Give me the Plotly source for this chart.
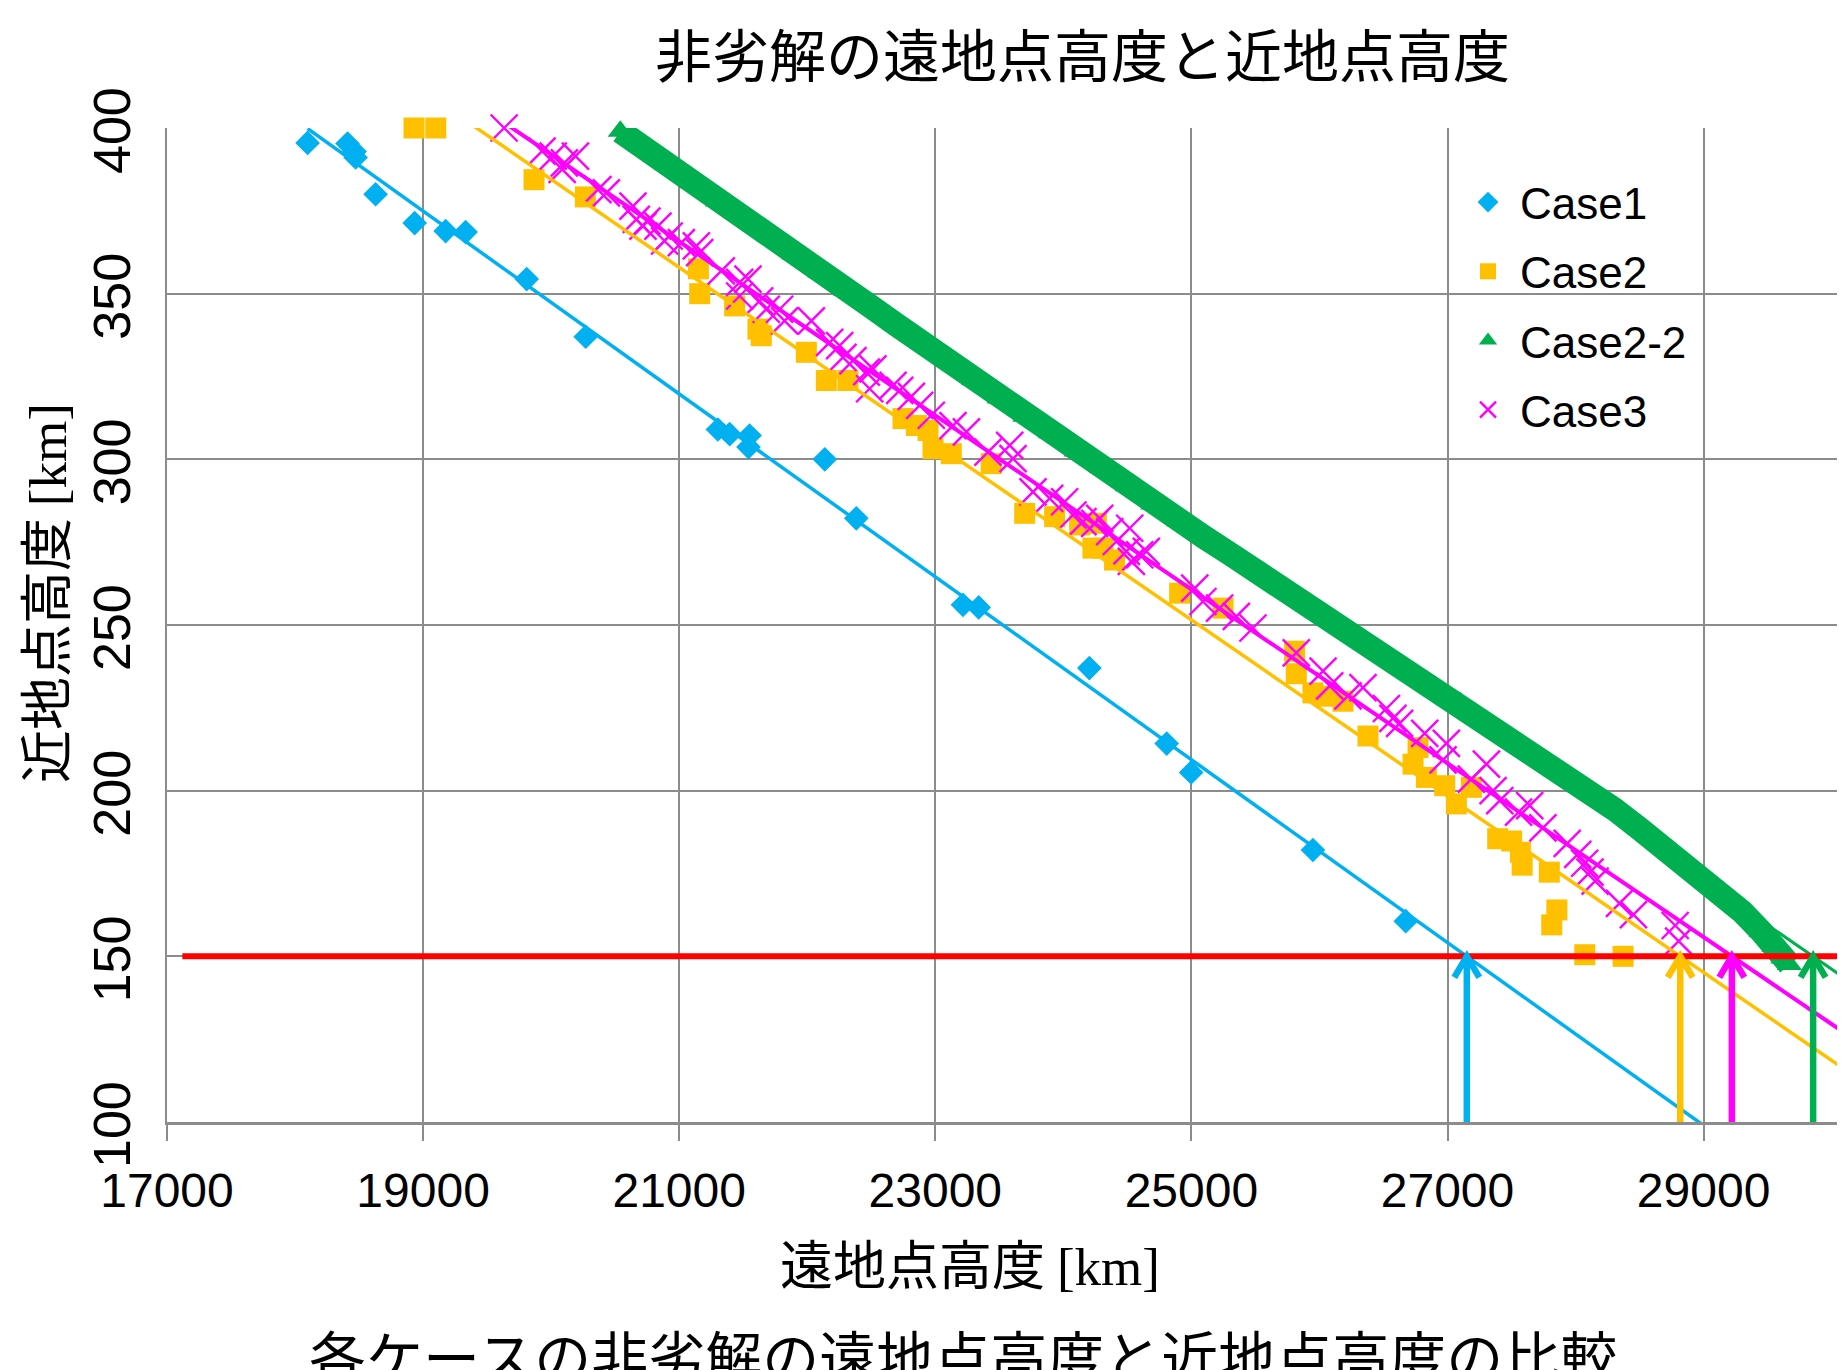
import numpy as np
import plotly.graph_objects as go

# ---------------- data ----------------
series_names = ["Case1", "Case2", "Case2-2", "Case3"]

case1_apogee = [18098, 18410, 18465, 18473, 18629, 18934, 19176, 19332, 19809, 20270,
                21302, 21394, 21550, 21541, 22137, 22383, 23216, 23339, 24203, 24807,
                24998, 25949, 26674]
case1_perigee = [395.5, 395.3, 392.9, 391.1, 380.0, 371.3, 368.9, 368.6, 354.4, 337.0,
                 309.0, 307.6, 307.2, 303.7, 300.0, 282.2, 256.1, 255.3, 237.0, 214.2,
                 205.5, 182.1, 160.6]

case2_apogee = [18929, 19099, 19866, 20267, 21150, 21160, 21433, 21615, 21641, 21993,
                22149, 22318, 22748, 22852, 22943, 22982, 23125, 23437, 23698, 23932,
                24127, 24258, 24231, 24309, 24400, 24908, 25247, 25806, 25819, 25949,
                26054, 26184, 26379, 26770, 26731, 26835, 26978, 27069, 27186, 27392,
                27501, 27569, 27583, 27795, 27854, 27814, 28072, 28371]
case2_perigee = [400.0, 400.0, 384.4, 379.2, 357.5, 350.0, 346.3, 339.3, 337.3, 332.3,
                 323.8, 323.8, 312.3, 310.2, 308.7, 303.2, 301.7, 298.7, 283.7, 282.7,
                 280.2, 280.7, 273.2, 273.2, 269.6, 259.6, 255.1, 242.1, 235.3, 229.5,
                 228.5, 227.0, 216.5, 213.0, 208.0, 204.0, 201.5, 196.0, 201.0, 185.5,
                 184.8, 181.4, 177.5, 175.4, 164.0, 159.5, 150.5, 150.0]

case22_apogee = [20540, 20700, 20900, 21100, 21300, 21500, 21700, 21900, 22100, 22300,
                 22500, 22700, 22900, 23100, 23300, 23500, 23700, 23900, 24100, 24300,
                 24500, 24700, 24900, 25100, 25300, 25500, 25700, 25900, 26100, 26300,
                 26500, 26700, 26900, 27100, 27300, 27500, 27700, 27900, 28100, 28300,
                 28500, 28700, 28900, 29100, 29300, 29450, 29550, 29620, 29670]
case22_perigee = [399.0, 394.5, 389.0, 383.5, 378.0, 373.0, 367.5, 362.0, 356.5, 351.0,
                  346.0, 340.5, 335.0, 329.5, 324.0, 318.5, 313.0, 308.0, 302.5, 297.5,
                  292.0, 286.5, 281.5, 276.5, 271.5, 266.5, 261.5, 256.5, 251.5, 246.5,
                  241.5, 236.5, 231.5, 226.5, 221.0, 216.0, 210.5, 205.5, 200.0, 194.5,
                  188.5, 182.5, 176.5, 170.0, 163.5, 157.5, 153.0, 149.5, 147.5]

case3_apogee = [19633, 19929, 20016, 20086, 20103, 20190, 20365, 20431, 20639, 20665,
                20717, 20748, 20834, 20886, 20922, 21017, 21134, 21160, 21329, 21472,
                21537, 21472, 21628, 21680, 21784, 21823, 22032, 22175, 22253, 22279,
                22357, 22461, 22513, 22487, 22670, 22722, 22813, 22878, 22969, 23138,
                23243, 23411, 23581, 23607, 23763, 23893, 24010, 24075, 24153, 24245,
                24362, 24414, 24284, 24518, 24492, 24596, 24648, 24531, 25026, 25090,
                25220, 25351, 25481, 25819, 26028, 26080, 26223, 26340, 26523, 26574,
                26626, 26822, 26991, 26965, 27186, 27304, 27356, 27408, 27555, 27642,
                27745, 27935, 28017, 28071, 28113, 28153, 28343, 28452, 28778, 28805]
case3_perigee = [400.0, 393.0, 391.5, 387.5, 389.5, 391.5, 381.4, 380.4, 376.4, 372.4,
                 370.4, 371.9, 370.4, 365.9, 367.4, 365.4, 364.4, 362.4, 356.9, 353.4,
                 354.4, 349.3, 347.8, 345.3, 345.3, 341.8, 341.8, 335.3, 334.3, 330.8,
                 329.8, 326.3, 327.3, 321.3, 322.3, 320.8, 319.0, 316.3, 313.3, 310.2,
                 308.3, 302.2, 304.2, 300.2, 290.2, 288.2, 287.2, 283.2, 281.2, 280.7,
                 278.2, 275.2, 282.2, 279.2, 272.2, 271.2, 272.2, 269.2, 261.1, 257.1,
                 255.1, 252.6, 249.1, 241.6, 236.1, 231.6, 228.6, 231.1, 224.8, 221.8,
                 220.3, 217.3, 214.3, 209.3, 203.5, 208.0, 200.0, 197.0, 193.5, 195.5,
                 188.8, 184.1, 180.8, 178.1, 175.4, 172.7, 166.0, 162.6, 159.3, 154.6]

threshold_perigee = 150          # km, red reference line
threshold_start_apogee = 17120   # km, where the red line begins
trend_end_apogee = 31000         # trend lines forecast forward to here

x_ticks = [17000, 19000, 21000, 23000, 25000, 27000, 29000]
y_ticks = [100, 150, 200, 250, 300, 350, 400]

title_text = "非劣解の遠地点高度と近地点高度"
x_title = "遠地点高度 <span style=\"font-family:Liberation Serif\">[km]</span>"
y_title = "近地点高度 <span style=\"font-family:Liberation Serif\">[km]</span>"
caption_text = "各ケースの非劣解の遠地点高度と近地点高度の比較"

# ---------------- styling ----------------
C1, C2, C22, C3 = "#00B0F0", "#FFC000", "#00B050", "#FF00FF"
RED = "#FF0000"
GRID = "#8c8c8c"
CJK = "Noto Sans CJK JP"
LAT = "Liberation Sans"

OFF = 8                                   # page body margin
FIG_W, FIG_H = 1845 - OFF, 1370 - OFF
L, T = 167 - OFF, 128 - OFF
PLOT_BOTTOM = 1122 - OFF
B = FIG_H - PLOT_BOTTOM
PW, PH = FIG_W - L, PLOT_BOTTOM - T
X_MIN = 17000
X_MAX = X_MIN + PW / 256.1 * 2000
Y_MIN, Y_MAX = 100, 400


def pxx(wx):   # window px -> paper x
    return (wx - OFF - L) / PW


def pxy(wy):   # window px -> paper y
    return (T + PH - (wy - OFF)) / PH


fig = go.Figure()

# scatter series
fig.add_trace(go.Scatter(x=case1_apogee, y=case1_perigee, mode="markers", name=series_names[0],
                         legendgroup="g1", cliponaxis=False,
                         marker=dict(symbol="diamond", size=19, color=C1)))
fig.add_trace(go.Scatter(x=case2_apogee, y=case2_perigee, mode="markers", name=series_names[1],
                         legendgroup="g2", cliponaxis=False,
                         marker=dict(symbol="square", size=21, color=C2)))
# dense Case2-2 front: band through the points + the triangle markers
fig.add_trace(go.Scatter(x=case22_apogee, y=case22_perigee, mode="lines", showlegend=False,
                         legendgroup="g3", line=dict(color=C22, width=24), hoverinfo="skip"))
fig.add_trace(go.Scatter(x=case22_apogee, y=case22_perigee, mode="markers", name=series_names[2],
                         legendgroup="g3", cliponaxis=False,
                         marker=dict(symbol="triangle-up", size=22, color=C22)))
fig.add_trace(go.Scatter(x=case3_apogee, y=case3_perigee, mode="markers", name=series_names[3],
                         legendgroup="g4", cliponaxis=False,
                         marker=dict(symbol="x-thin", size=27, color=C3,
                                     line=dict(color=C3, width=2.4))))

# linear trend lines (least squares) and their crossing of the threshold
series = [(case1_apogee, case1_perigee, C1, 3.5),
          (case2_apogee, case2_perigee, C2, 3.5),
          (case22_apogee, case22_perigee, C22, 3.0),
          (case3_apogee, case3_perigee, C3, 4.0)]
crossings = []
for xs, ys, col, w in series:
    m, b = np.polyfit(np.array(xs, float), np.array(ys, float), 1)
    tx = np.array([min(xs), trend_end_apogee], float)
    fig.add_trace(go.Scatter(x=tx, y=m * tx + b, mode="lines", showlegend=False,
                             line=dict(color=col, width=w), hoverinfo="skip"))
    crossings.append(((threshold_perigee - b) / m, col))

# red threshold line
fig.add_trace(go.Scatter(x=[threshold_start_apogee, trend_end_apogee],
                         y=[threshold_perigee, threshold_perigee], mode="lines",
                         showlegend=False, line=dict(color=RED, width=6), hoverinfo="skip"))

# arrows from the axis up to each crossing
head_dx = 12.5 * 2000 / 256.1           # px -> km
head_dy = 21.0 * (Y_MAX - Y_MIN) / PH   # px -> km
for xc, col in crossings:
    fig.add_trace(go.Scatter(
        x=[xc, xc, None, xc - head_dx, xc, xc + head_dx],
        y=[Y_MIN, threshold_perigee, None, threshold_perigee - head_dy, threshold_perigee,
           threshold_perigee - head_dy],
        mode="lines", showlegend=False, line=dict(color=col, width=6.5), hoverinfo="skip"))

annotations = [
    dict(text=title_text, x=pxx(1082), y=pxy(52), xref="paper", yref="paper",
         xanchor="center", yanchor="middle", showarrow=False,
         font=dict(family=CJK, size=57, color="black")),
    dict(text=x_title, x=pxx(970), y=pxy(1262), xref="paper", yref="paper",
         xanchor="center", yanchor="middle", showarrow=False,
         font=dict(family=CJK, size=53, color="black")),
    dict(text=y_title, x=pxx(43), y=pxy(593), xref="paper", yref="paper", textangle=-90,
         xanchor="center", yanchor="middle", showarrow=False,
         font=dict(family=CJK, size=53, color="black")),
    dict(text=caption_text, x=pxx(963), y=pxy(1311), xref="paper", yref="paper",
         xanchor="center", yanchor="top", showarrow=False,
         font=dict(family=CJK, size=57, color="black")),
]
# rotated y tick labels
for v in y_ticks:
    annotations.append(dict(text=str(v), x=pxx(112), y=v, xref="paper", yref="y",
                            textangle=-90, xanchor="center", yanchor="middle",
                            showarrow=False, yshift=-3,
                            font=dict(family=LAT, size=52, color="black")))

fig.update_layout(
    width=FIG_W, height=FIG_H,
    margin=dict(l=L, r=0, t=T, b=B, autoexpand=False),
    paper_bgcolor="white", plot_bgcolor="white",
    showlegend=True,
    legend=dict(x=pxx(1456), y=pxy(167), xanchor="left", yanchor="top",
                font=dict(family=LAT, size=44, color="black"),
                bgcolor="rgba(0,0,0,0)", itemwidth=54, tracegroupgap=9,
                traceorder="grouped"),
    annotations=annotations,
)
fig.update_xaxes(range=[X_MIN, X_MAX], tickvals=x_ticks, ticktext=[str(v) for v in x_ticks],
                 showgrid=True, gridcolor=GRID, gridwidth=2,
                 showline=True, linecolor=GRID, linewidth=3,
                 ticks="outside", ticklen=16, tickwidth=2, tickcolor=GRID,
                 tickfont=dict(family=LAT, size=48, color="black"),
                 ticklabelstandoff=8, zeroline=False)
fig.update_yaxes(range=[Y_MIN, Y_MAX], tickvals=y_ticks, showticklabels=False,
                 showgrid=True, gridcolor=GRID, gridwidth=2,
                 showline=True, linecolor=GRID, linewidth=2,
                 ticks="", zeroline=False)

fig.write_html("out.html")
